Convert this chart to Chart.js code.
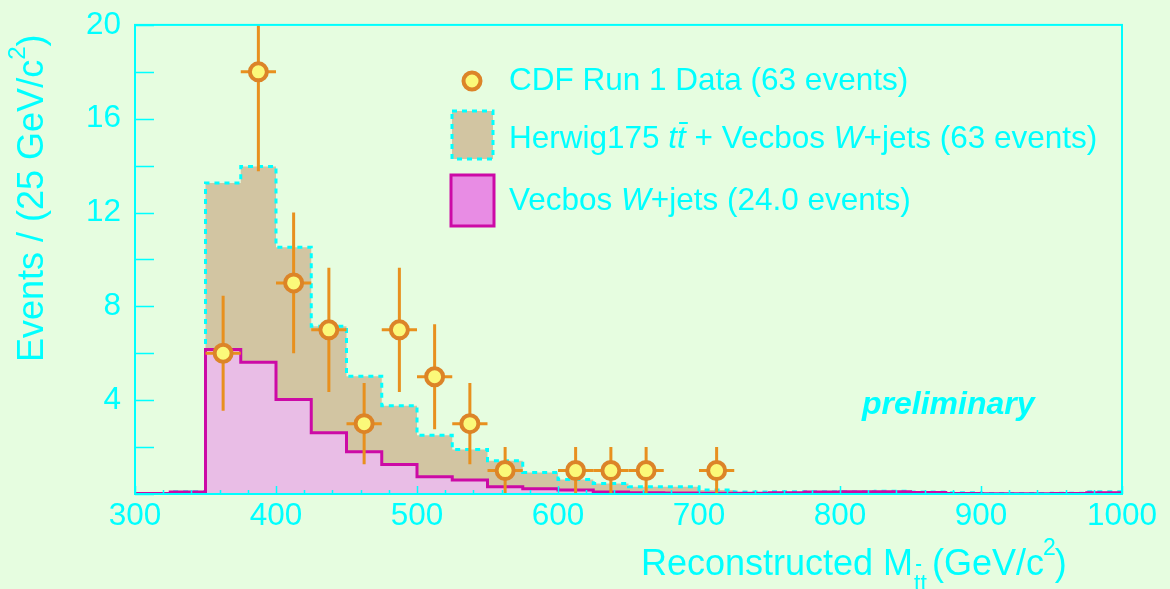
<!DOCTYPE html>
<html>
<head>
<meta charset="utf-8">
<script src="https://cdn.jsdelivr.net/npm/chart.js@4.4.1/dist/chart.umd.min.js"></script>
<style>
  html, body { margin: 0; padding: 0; background: #e6fde0; }
  #wrap { width: 1170px; height: 589px; position: relative; overflow: hidden; }
</style>
</head>
<body>
<div id="wrap"><canvas id="mttChart" width="1170" height="589"></canvas></div>
<script>
// --- histogram bins (left edges, GeV/c^2) ---
const binLow = [300, 325, 350, 375, 400, 425, 450, 475, 500, 525, 550, 575, 600, 625,
                650, 675, 700, 725, 750, 775, 800, 825, 850, 875, 900, 925, 950, 975];
const binWidth = 25;

// Herwig175 ttbar + Vecbos W+jets (stacked total)
const mcTotal = [0.02, 0.10, 13.26, 13.96, 10.52, 7.15, 5.02, 3.76, 2.51, 1.90, 1.42, 0.92, 0.62, 0.45,
                 0.31, 0.31, 0.17, 0.08, 0.10, 0.10, 0.10, 0.12, 0.08, 0.05, 0.02, 0.02, 0.03, 0.10];
// Vecbos W+jets alone
const wJets = [0.02, 0.08, 6.16, 5.62, 4.03, 2.61, 1.80, 1.26, 0.74, 0.60, 0.31, 0.22, 0.17, 0.08,
               0.05, 0.04, 0.03, 0.03, 0.05, 0.08, 0.10, 0.10, 0.06, 0.02, 0.01, 0.01, 0.02, 0.05];

// CDF Run 1 data
const dataMass   = [362.5, 387.5, 412.5, 437.5, 462.5, 487.5, 512.5, 537.5, 562.5, 612.5, 637.5, 662.5, 712.5];
const dataCounts = [6, 18, 9, 7, 3, 7, 5, 3, 1, 1, 1, 1, 1];
const dataErr    = [2.45, 4.24, 3.0, 2.65, 1.73, 2.65, 2.24, 1.73, 1.0, 1.0, 1.0, 1.0, 1.0];

// axes
const xTickLabels = [300, 400, 500, 600, 700, 800, 900, 1000];
const yTickLabels = [4, 8, 12, 16, 20];
const yTickMarks = [0, 2, 4, 6, 8, 10, 12, 14, 16, 18, 20];

const CYAN = '#00ffff';
const TAN = '#d2c5a2';
const PINK = '#e9bde6';
const PINK_LEG = '#e88ce4';
const MAGENTA = '#cc0aa6';
const ORANGE = '#dc8428';
const BAR_ORANGE = '#e8901e';
const YELLOW = '#fbf97a';
const FONT = '"Liberation Sans", Arial, Helvetica, sans-serif';

function stepPoints(vals) {
    const pts = binLow.map((x, i) => ({ x: x, y: vals[i] }));
    pts.push({ x: binLow[binLow.length - 1] + binWidth, y: vals[vals.length - 1] });
    return pts;
}

// error bars under the data markers
const errorBars = {
    id: 'errorBars',
    beforeDatasetDraw(chart, args) {
        if (args.index !== 2) return;
        const { ctx, chartArea, scales: { x, y } } = chart;
        ctx.save();
        ctx.beginPath();
        ctx.rect(chartArea.left, chartArea.top, chartArea.right - chartArea.left, chartArea.bottom - chartArea.top);
        ctx.clip();
        ctx.strokeStyle = BAR_ORANGE;
        ctx.lineWidth = 3;
        dataMass.forEach((m, i) => {
            const px = x.getPixelForValue(m);
            const py = y.getPixelForValue(dataCounts[i]);
            ctx.beginPath();
            ctx.moveTo(px, y.getPixelForValue(dataCounts[i] - dataErr[i]));
            ctx.lineTo(px, y.getPixelForValue(dataCounts[i] + dataErr[i]));
            ctx.moveTo(x.getPixelForValue(m - binWidth / 2), py);
            ctx.lineTo(x.getPixelForValue(m + binWidth / 2), py);
            ctx.stroke();
        });
        ctx.restore();
    }
};

// frame, inward ticks, titles, legend
const decorations = {
    id: 'decorations',
    afterDatasetsDraw(chart) {
        const { ctx, chartArea: a, scales: { x, y } } = chart;
        ctx.save();
        ctx.strokeStyle = CYAN;
        ctx.lineWidth = 2;
        ctx.strokeRect(a.left, a.top, a.right - a.left, a.bottom - a.top);

        ctx.lineWidth = 1.5;
        ctx.beginPath();
        yTickMarks.forEach(v => {
            const py = Math.round(y.getPixelForValue(v)) + 0.5;
            ctx.moveTo(a.left, py);
            ctx.lineTo(a.left + 19, py);
        });
        for (let v = 300; v <= 1000; v += 20) {
            const px = Math.round(x.getPixelForValue(v)) + 0.5;
            const len = v % 100 === 0 ? 8 : 4;
            ctx.moveTo(px, a.bottom);
            ctx.lineTo(px, a.bottom - len);
        }
        ctx.stroke();
        ctx.restore();
    },
    afterDraw(chart) {
        const { ctx } = chart;
        ctx.save();
        ctx.fillStyle = CYAN;
        ctx.textBaseline = 'alphabetic';
        ctx.textAlign = 'left';

        // y title
        ctx.save();
        ctx.translate(43, 362);
        ctx.rotate(-Math.PI / 2);
        ctx.font = '36px ' + FONT;
        let t = 'Events / (25 GeV/c';
        ctx.fillText(t, 0, 0);
        let w = ctx.measureText(t).width;
        ctx.font = '24px ' + FONT;
        ctx.fillText('2', w, -18);
        w += ctx.measureText('2').width;
        ctx.font = '36px ' + FONT;
        ctx.fillText(')', w, 0);
        ctx.restore();

        // x title
        let cx = 641;
        const base = 575;
        ctx.font = '36px ' + FONT;
        t = 'Reconstructed M';
        ctx.fillText(t, cx, base);
        cx += ctx.measureText(t).width + 1;
        ctx.font = '23px ' + FONT;
        ctx.fillText('tt', cx, base + 16);
        ctx.fillRect(cx + 2, base - 11, 5, 2);
        cx += ctx.measureText('tt').width + 5;
        ctx.font = '36px ' + FONT;
        t = '(GeV/c';
        ctx.fillText(t, cx, base);
        cx += ctx.measureText(t).width;
        ctx.font = '23px ' + FONT;
        ctx.fillText('2', cx - 1, base - 20);
        cx += ctx.measureText('2').width - 2;
        ctx.font = '36px ' + FONT;
        ctx.fillText(')', cx, base);

        // preliminary
        ctx.font = 'italic bold 32px ' + FONT;
        ctx.fillText('preliminary', 862, 414);

        // legend
        const lx = 509;
        // row 1 marker
        ctx.beginPath();
        ctx.arc(472, 81, 8.5, 0, Math.PI * 2);
        ctx.fillStyle = YELLOW;
        ctx.fill();
        ctx.lineWidth = 4;
        ctx.strokeStyle = ORANGE;
        ctx.stroke();
        // row 2 box
        ctx.fillStyle = TAN;
        ctx.fillRect(452, 111, 41, 48);
        ctx.strokeStyle = CYAN;
        ctx.lineWidth = 3;
        ctx.setLineDash([5, 5]);
        ctx.strokeRect(452, 111, 41, 48);
        ctx.setLineDash([]);
        // row 3 box
        ctx.fillStyle = PINK_LEG;
        ctx.fillRect(451, 175, 43, 51);
        ctx.strokeStyle = MAGENTA;
        ctx.lineWidth = 3;
        ctx.strokeRect(451, 175, 43, 51);

        ctx.fillStyle = CYAN;
        const reg = '31.5px ' + FONT;
        const ita = 'italic 31.5px ' + FONT;
        function runs(parts, x0, yb) {
            let px = x0;
            parts.forEach(p => {
                ctx.font = p[1] ? ita : reg;
                ctx.fillText(p[0], px, yb);
                const pw = ctx.measureText(p[0]).width;
                if (p[2]) {
                    const tw = ctx.measureText('t').width;
                    ctx.fillRect(px + tw + 2, yb - 26, tw, 2);
                }
                px += pw;
            });
        }
        runs([['CDF Run 1 Data (63 events)']], lx, 90);
        runs([['Herwig175 '], ['tt', true, true], [' + Vecbos '], ['W', true], ['+jets (63 events)']], lx, 148);
        runs([['Vecbos '], ['W', true], ['+jets (24.0 events)']], lx, 210);
        ctx.restore();
    }
};

Chart.defaults.font.family = FONT;

new Chart(document.getElementById('mttChart'), {
    type: 'line',
    data: {
        datasets: [
            {
                label: 'Herwig175 tt + Vecbos W+jets (63 events)',
                data: stepPoints(mcTotal),
                stepped: 'before',
                fill: 'origin',
                backgroundColor: TAN,
                borderColor: CYAN,
                borderWidth: 3,
                borderDash: [5, 5],
                pointRadius: 0,
                order: 2
            },
            {
                label: 'Vecbos W+jets (24.0 events)',
                data: stepPoints(wJets),
                stepped: 'before',
                fill: 'origin',
                backgroundColor: PINK,
                borderColor: MAGENTA,
                borderWidth: 3,
                pointRadius: 0,
                order: 1
            },
            {
                label: 'CDF Run 1 Data (63 events)',
                data: dataMass.map((m, i) => ({ x: m, y: dataCounts[i] })),
                showLine: false,
                pointRadius: 8.5,
                pointBorderWidth: 4,
                pointBackgroundColor: YELLOW,
                pointBorderColor: ORANGE,
                order: 0
            }
        ]
    },
    options: {
        responsive: false,
        animation: false,
        devicePixelRatio: 1,
        layout: { padding: { top: 16, right: 48, left: 0, bottom: 0 } },
        plugins: {
            legend: { display: false },
            tooltip: { enabled: false }
        },
        scales: {
            x: {
                type: 'linear',
                min: 300,
                max: 1000,
                afterBuildTicks: s => { s.ticks = xTickLabels.map(v => ({ value: v })); },
                afterFit: s => { s.height = 95; },
                grid: { display: false },
                border: { display: false },
                ticks: { color: CYAN, font: { size: 31.5 }, padding: -5, maxRotation: 0,
                         callback: v => String(v) }
            },
            y: {
                min: 0,
                max: 20,
                afterBuildTicks: s => { s.ticks = yTickLabels.map(v => ({ value: v })); },
                afterFit: s => { s.width = 135; },
                grid: { display: false },
                border: { display: false },
                ticks: { color: CYAN, font: { size: 31.5 }, padding: 6 }
            }
        }
    },
    plugins: [errorBars, decorations]
});
</script>
</body>
</html>
